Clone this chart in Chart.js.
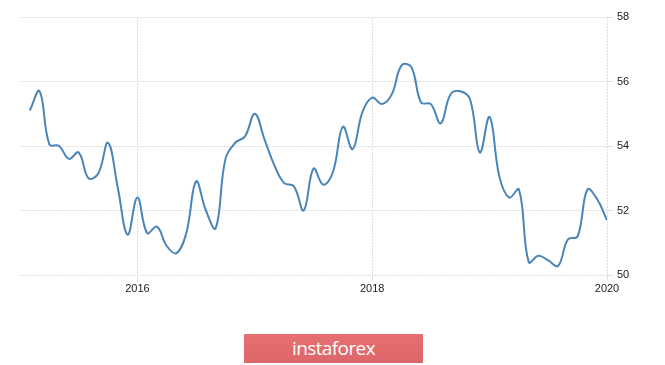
<!DOCTYPE html>
<html>
<head>
<meta charset="utf-8">
<script src="https://cdn.jsdelivr.net/npm/chart.js@4"></script>
<style>
  body { margin: 0; background: #fff; width: 665px; height: 365px; overflow: hidden; position: relative; }
  #wrap { position: absolute; left: 0; top: 0; width: 665px; height: 300px; }
  #badge {
    position: absolute; left: 244px; top: 334px; width: 179px; height: 29px;
    background: linear-gradient(#e76f71, #dc6669);
    color: #fff; font-family: "Open Sans", sans-serif; font-size: 19px;
    letter-spacing: -0.6px; text-align: center; line-height: 29px;
  }
</style>
</head>
<body>
<div id="wrap"><canvas id="pmi"></canvas></div>
<div id="badge">instaforex</div>
<script>
// monthly readings, Feb 2015 .. Jan 2020
const months = [
  '2015-02','2015-03','2015-04','2015-05','2015-06','2015-07','2015-08','2015-09','2015-10','2015-11','2015-12',
  '2016-01','2016-02','2016-03','2016-04','2016-05','2016-06','2016-07','2016-08','2016-09','2016-10','2016-11','2016-12',
  '2017-01','2017-02','2017-03','2017-04','2017-05','2017-06','2017-07','2017-08','2017-09','2017-10','2017-11','2017-12',
  '2018-01','2018-02','2018-03','2018-04','2018-05','2018-06','2018-07','2018-08','2018-09','2018-10','2018-11','2018-12',
  '2019-01','2019-02','2019-03','2019-04','2019-05','2019-06','2019-07','2019-08','2019-09','2019-10','2019-11','2019-12',
  '2020-01'
];
const values = [
  55.1, 55.7, 54.05, 54.0, 53.6, 53.8, 53.0, 53.15, 54.1, 52.7, 51.25,
  52.4, 51.3, 51.5, 50.9, 50.68, 51.3, 52.9, 52.0, 51.45, 53.6, 54.1, 54.3,
  55.0, 54.2, 53.4, 52.85, 52.75, 52.0, 53.3, 52.8, 53.2, 54.6, 53.9, 55.05,
  55.5, 55.3, 55.6, 56.5, 56.45, 55.35, 55.3, 54.7, 55.6, 55.7, 55.45, 53.8,
  54.9, 53.05, 52.4, 52.65, 50.4, 50.6, 50.45, 50.28, 51.1, 51.2, 52.65, 52.35,
  51.7
];
const yearLabels = ['2016', '2018', '2020'];
const yTicks = [50, 52, 54, 56, 58];

const baseYear = 2015;
const monthPos = m => { const [y, mo] = m.split('-').map(Number); return (y - baseYear) * 12 + mo - 1; };
const yearPos = y => (Number(y) - baseYear) * 12;

const gridColor = '#dedede';
const tickFont = { family: '"Liberation Sans", Arial, sans-serif', size: 11 };

new Chart(document.getElementById('pmi'), {
  type: 'line',
  data: {
    datasets: [{
      data: months.map((m, i) => ({ x: monthPos(m), y: values[i] })),
      borderColor: '#4a85ba',
      borderWidth: 2,
      tension: 0.4,
      fill: false,
      pointRadius: 0
    }]
  },
  options: {
    responsive: true,
    maintainAspectRatio: false,
    animation: false,
    layout: { padding: { left: 20, top: 17, right: 0, bottom: 0 } },
    plugins: { legend: { display: false }, tooltip: { enabled: false } },
    scales: {
      x: {
        type: 'linear',
        min: 0,
        max: yearPos('2020'),
        afterBuildTicks: s => { s.ticks = yearLabels.map(y => ({ value: yearPos(y) })); },
        afterFit: s => { s.height = 25; },
        ticks: { color: '#222', font: tickFont, padding: 1, maxRotation: 0,
                 callback: v => String(baseYear + v / 12) },
        grid: { color: gridColor, tickLength: 6 },
        border: { display: false, dash: [2, 1] }
      },
      y: {
        position: 'right',
        min: 50,
        max: 58,
        afterBuildTicks: s => { s.ticks = yTicks.map(v => ({ value: v })); },
        afterFit: s => { s.width = 58; },
        ticks: { color: '#222', font: tickFont, padding: 4 },
        grid: { color: gridColor, tickLength: 6 },
        border: { display: false, dash: [2, 1] }
      }
    }
  }
});
</script>
</body>
</html>
